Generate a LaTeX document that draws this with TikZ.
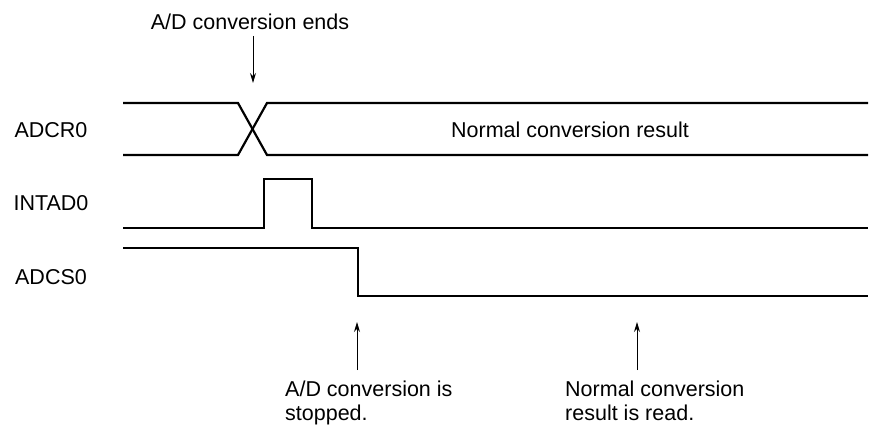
\documentclass[tikz,border=0pt]{standalone}
\usepackage{fontspec}
\setmainfont{Liberation Sans}
\usetikzlibrary{arrows.meta}
\begin{document}
\begin{tikzpicture}[x=1pt,y=-1pt,
  sig/.style={line width=2.2pt, line join=miter},
  lbl/.style={font=\fontsize{21.5}{25}\selectfont, inner sep=0pt},
  note/.style={font=\fontsize{21.5}{24}\selectfont, inner sep=0pt, align=left},
  ptr/.style={line width=1pt, -{Stealth[length=10pt,width=6pt]}}]
\useasboundingbox (0,0) rectangle (881,425);
% labels
\node[lbl] (lADCR) at (51,130) {ADCR0};
\node[lbl] (lINT) at (51,203) {INTAD0};
\node[lbl] (lADCS) at (51,277) {ADCS0};
% ADCR0
\draw[sig] (123,103) -- (238,103) -- (267,155) -- (868,155);
\draw[sig] (123,155) -- (238,155) -- (267,103) -- (868,103);
\node[lbl] (res) at (570,130) {Normal conversion result};
% INTAD0
\draw[sig] (123,228) -- (264,228) -- (264,179) -- (312,179) -- (312,228) -- (868,228);
% ADCS0
\draw[sig] (123,248) -- (358,248) -- (358,296) -- (868,296);
% annotations
\node[lbl] (ends) at (250,22) {A/D conversion ends};
\coordinate (endsTip) at (253,83);
\draw[ptr] (253,36) -- (endsTip);
\node[note, anchor=north west] (stop) at (285,381) {A/D conversion is\\stopped.};
\node[note, anchor=north west] (read) at (565,381) {Normal conversion\\result is read.};
\coordinate (stopTip) at (357,322);
\coordinate (readTip) at (637,322);
\draw[ptr] (357,370) -- (stopTip);
\draw[ptr] (637,370) -- (readTip);
\end{tikzpicture}
\end{document}
